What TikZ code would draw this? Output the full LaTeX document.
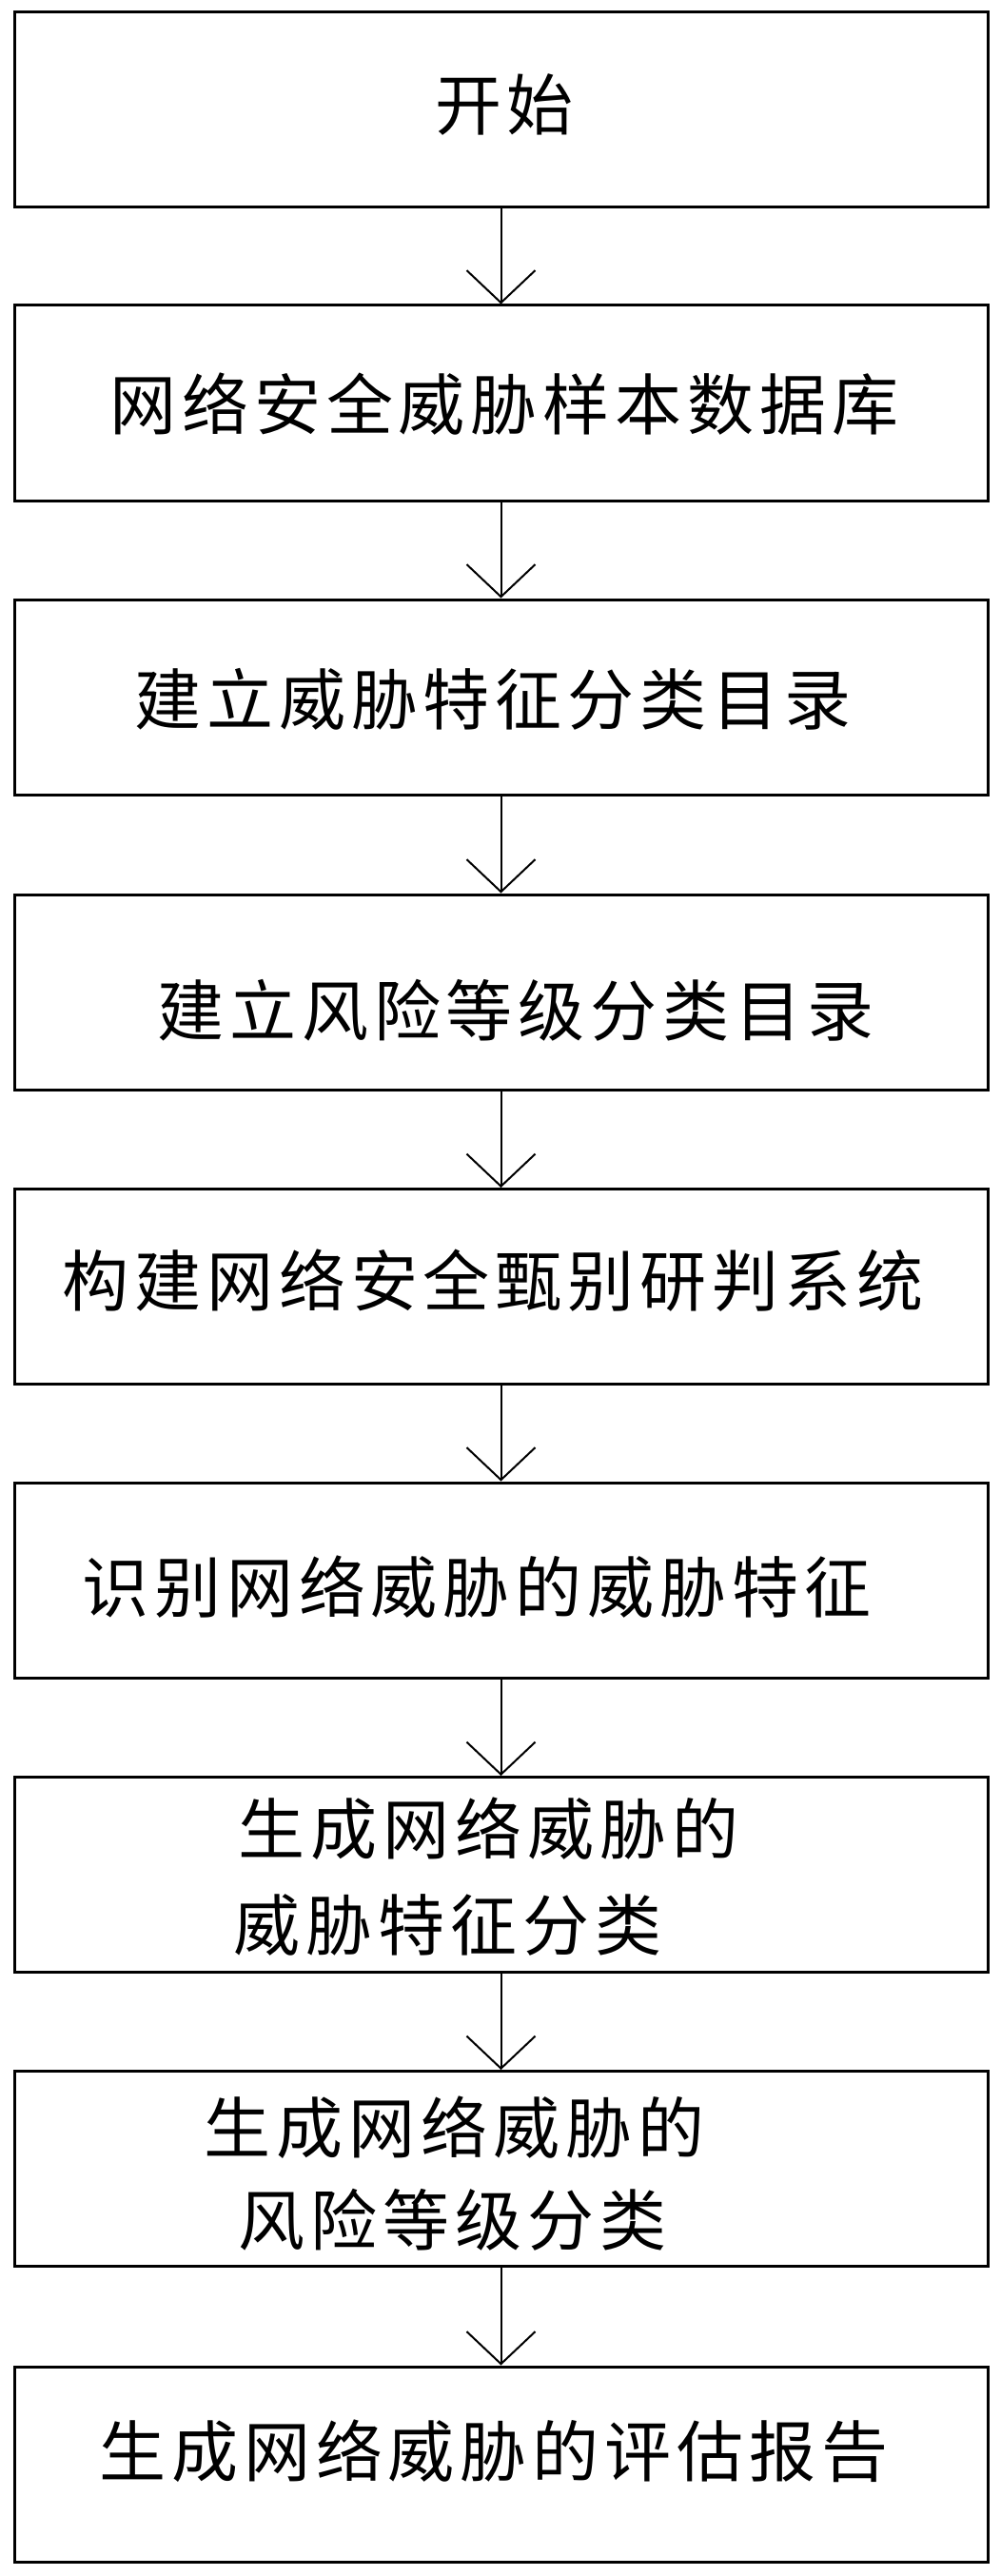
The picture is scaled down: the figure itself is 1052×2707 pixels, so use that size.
\documentclass[tikz,border=0pt]{standalone}
\usepackage{fontspec}
\newfontfamily\cjk[LetterSpace=8.5]{Noto Sans CJK SC}
\usetikzlibrary{arrows.meta}
\begin{document}
\begin{tikzpicture}[x=0.5pt,y=-0.5pt,
  box/.style={draw, line width=1.5pt, minimum width=511.5pt, minimum height=102.5pt, inner sep=0pt},
  txt/.style={font=\cjk\fontsize{35pt}{42pt}\selectfont, inner sep=0pt},
  arr/.style={line width=1pt, -{Straight Barb[length=17pt,width=36pt,line width=1pt]}}]
\useasboundingbox[fill=white] (0,0) rectangle (1052,2707);
\node[box] (b1) at (526.5,115.5) {};
\node[box] (b2) at (526.5,423.5) {};
\node[box] (b3) at (526.5,732.5) {};
\node[box] (b4) at (526.5,1042.5) {};
\node[box] (b5) at (526.5,1352) {};
\node[box] (b6) at (526.5,1660.5) {};
\node[box] (b7) at (526.5,1970) {};
\node[box] (b8) at (526.5,2279) {};
\node[box] (b9) at (526.5,2589.5) {};
\node[txt] (t1) at (530,110) {开始};
\node[txt] (t2) at (530,425) {网络安全威胁样本数据库};
\node[txt] (t3) at (518,735) {建立威胁特征分类目录};
\node[txt] (t4) at (542,1062) {建立风险等级分类目录};
\node[txt] (t5) at (518,1346) {构建网络安全甄别研判系统};
\node[txt] (t6) at (501,1668) {识别网络威胁的威胁特征};
\node[txt,anchor=west] (t7a) at (250,1922) {生成网络威胁的};
\node[txt,anchor=west] (t7b) at (245,2023) {威胁特征分类};
\node[txt,anchor=west] (t8a) at (214,2236) {生成网络威胁的};
\node[txt,anchor=west] (t8b) at (250,2333) {风险等级分类};
\node[txt] (t9) at (519,2576) {生成网络威胁的评估报告};
\foreach \a/\b in {b1/b2,b2/b3,b3/b4,b4/b5,b5/b6,b6/b7,b7/b8,b8/b9}
  \draw[arr] (\a.south) -- (\b.north);
\end{tikzpicture}
\end{document}
